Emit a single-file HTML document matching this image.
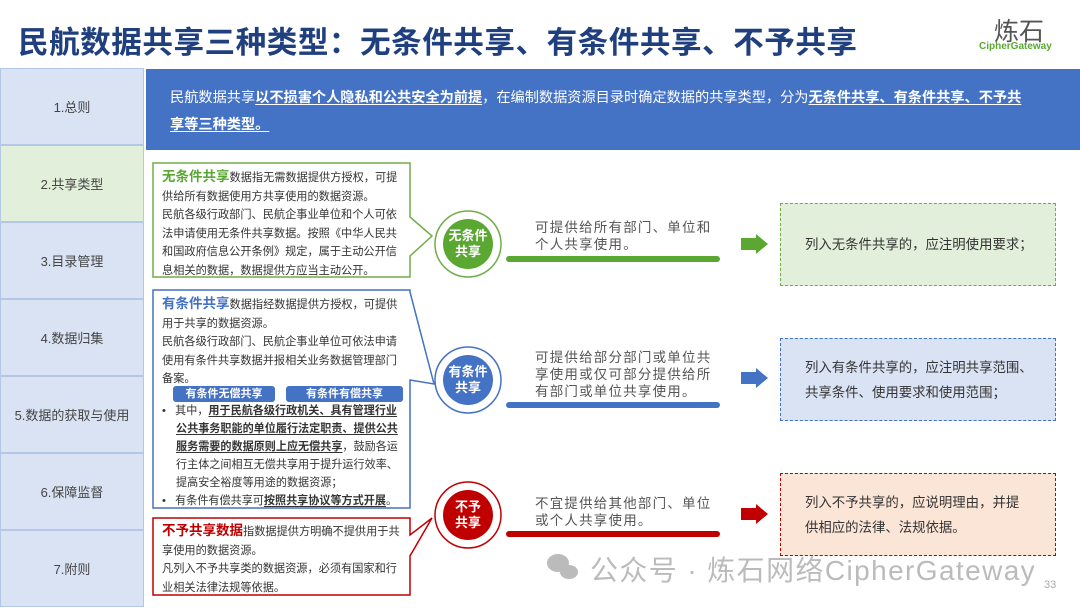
<!DOCTYPE html>
<html><head><meta charset="utf-8"><style>
*{margin:0;padding:0;box-sizing:border-box}
body{width:1080px;height:608px;position:relative;overflow:hidden;background:#fff;font-family:"Liberation Sans","Noto Sans CJK SC",sans-serif;color:#333}
.a{position:absolute}
.nav{position:absolute;left:0;width:144px;height:77px;background:#dae3f3;border:1px solid #b4c7e7;font-size:13px;color:#444;display:flex;align-items:center;justify-content:center}
.t{font-size:11.2px;line-height:18.5px;color:#333;letter-spacing:0}
.mid{font-size:13.5px;line-height:17px;color:#555;letter-spacing:1.2px}
.box{position:absolute;left:780px;width:276px;height:83px;border:1.5px dashed;font-size:13.4px;line-height:36px;padding:7px 14px 0 24px;color:#333}
u{text-decoration:underline;text-underline-offset:2px}
</style></head><body>
<div class="a" style="left:18px;top:18px;font-size:30.6px;font-weight:bold;color:#1f3f7f;letter-spacing:0.5px">民航数据共享三种类型：无条件共享、有条件共享、不予共享</div>
<div class="a" style="left:994px;top:12px;font-size:25px;color:#555">炼石</div>
<div class="a" style="left:979px;top:41px;font-size:10px;color:#5aa832;font-weight:bold">CipherGateway</div>

<div class="nav" style="top:68px">1.总则</div>
<div class="nav" style="top:145px;background:#e2efda">2.共享类型</div>
<div class="nav" style="top:222px">3.目录管理</div>
<div class="nav" style="top:299px">4.数据归集</div>
<div class="nav" style="top:376px">5.数据的获取与使用</div>
<div class="nav" style="top:453px">6.保障监督</div>
<div class="nav" style="top:530px">7.附则</div>

<div class="a" style="left:146px;top:69px;width:934px;height:81px;background:#4472c4;color:#fff;font-size:14.2px;line-height:27px;padding:16px 18px 0 24px">民航数据共享<u><b>以不损害个人隐私和公共安全为前提</b></u>，在编制数据资源目录时确定数据的共享类型，分为<u><b>无条件共享、有条件共享、不予共<br>享等三种类型。</b></u></div>

<svg class="a" style="left:0;top:0" width="1080" height="608">
<polygon points="153,163 410,163 410,217 432,236 410,256 410,277 153,277" fill="#fff" stroke="#70ad47" stroke-width="1.5"/>
<polygon points="153,290 410,290 410,292 434,384 410,380 410,508 153,508" fill="#fff" stroke="#4472c4" stroke-width="1.5"/>
<polygon points="153,518 410,518 410,535 432,518 410,556 410,595 153,595" fill="#fff" stroke="#c00000" stroke-width="1.5"/>
<circle cx="468" cy="244" r="33" fill="#fff" stroke="#70ad47" stroke-width="1.5"/>
<circle cx="468" cy="244" r="25" fill="#5aa832"/>
<circle cx="468" cy="380" r="33" fill="#fff" stroke="#4472c4" stroke-width="1.5"/>
<circle cx="468" cy="380" r="25" fill="#4472c4"/>
<circle cx="468" cy="515" r="33" fill="#fff" stroke="#c00000" stroke-width="1.5"/>
<circle cx="468" cy="515" r="25" fill="#c00000"/>
<rect x="506" y="256" width="214" height="6" rx="3" fill="#5aa832"/>
<rect x="506" y="402" width="214" height="6" rx="3" fill="#4472c4"/>
<rect x="506" y="531" width="214" height="6" rx="3" fill="#c00000"/>
<polygon points="741,238 756,238 756,234 768,244 756,254 756,250 741,250" fill="#5aa832"/>
<polygon points="741,372 756,372 756,368 768,378 756,388 756,384 741,384" fill="#4472c4"/>
<polygon points="741,508 756,508 756,504 768,514 756,524 756,520 741,520" fill="#c00000"/>
<rect x="173" y="386" width="102" height="16" rx="3" fill="#4472c4"/>
<rect x="286" y="386" width="117" height="16" rx="3" fill="#4472c4"/>
<g fill="#bbb"><ellipse cx="558" cy="563" rx="11" ry="9"/><ellipse cx="569" cy="572" rx="9" ry="7"/></g>
</svg>

<div class="a t" style="left:162px;top:168px;width:246px"><b style="color:#5aa832;font-size:13.5px">无条件共享</b>数据指无需数据提供方授权，可提供给所有数据使用方共享使用的数据资源。<br>民航各级行政部门、民航企事业单位和个人可依法申请使用无条件共享数据。按照《中华人民共和国政府信息公开条例》规定，属于主动公开信息相关的数据，数据提供方应当主动公开。</div>

<div class="a t" style="left:162px;top:295px;width:246px"><b style="color:#4472c4;font-size:13.5px">有条件共享</b>数据指经数据提供方授权，可提供用于共享的数据资源。<br>民航各级行政部门、民航企事业单位可依法申请使用有条件共享数据并报相关业务数据管理部门备案。</div>
<div class="a" style="left:173px;top:386px;width:102px;text-align:center;color:#fff;font-size:11px;font-weight:bold;line-height:16px">有条件无偿共享</div>
<div class="a" style="left:286px;top:386px;width:117px;text-align:center;color:#fff;font-size:11px;font-weight:bold;line-height:16px">有条件有偿共享</div>
<div class="a t" style="left:162px;top:402px;width:246px;line-height:18px;font-size:11.1px">
<div style="padding-left:14px;text-indent:-14px">•&nbsp;&nbsp; 其中，<u><b>用于民航各级行政机关、具有管理行业公共事务职能的单位履行法定职责、提供公共服务需要的数据原则上应无偿共享</b></u>，鼓励各运行主体之间相互无偿共享用于提升运行效率、提高安全裕度等用途的数据资源；</div>
<div style="padding-left:14px;text-indent:-14px">•&nbsp;&nbsp; 有条件有偿共享可<u><b>按照共享协议等方式开展</b></u>。</div></div>

<div class="a t" style="left:162px;top:522px;width:246px"><b style="color:#c00000;font-size:13.5px">不予共享数据</b>指数据提供方明确不提供用于共享使用的数据资源。<br>凡列入不予共享类的数据资源，必须有国家和行业相关法律法规等依据。</div>

<div class="a" style="left:443px;top:228px;width:50px;text-align:center;color:#fff;font-size:13px;font-weight:bold;line-height:16px">无条件<br>共享</div>
<div class="a" style="left:443px;top:364px;width:50px;text-align:center;color:#fff;font-size:13px;font-weight:bold;line-height:16px">有条件<br>共享</div>
<div class="a" style="left:443px;top:499px;width:50px;text-align:center;color:#fff;font-size:13px;font-weight:bold;line-height:16px">不予<br>共享</div>

<div class="a mid" style="left:535px;top:219px;width:190px">可提供给所有部门、单位和个人共享使用。</div>
<div class="a mid" style="left:535px;top:349px;width:190px">可提供给部分部门或单位共享使用或仅可部分提供给所有部门或单位共享使用。</div>
<div class="a mid" style="left:535px;top:495px;width:190px">不宜提供给其他部门、单位或个人共享使用。</div>

<div class="box" style="top:203px;background:#e2efda;border-color:#70ad47;padding-top:23px">列入无条件共享的，应注明使用要求；</div>
<div class="box" style="top:338px;background:#dae3f3;border-color:#4472c4;line-height:25px;padding-top:16px">列入有条件共享的，应注明共享范围、共享条件、使用要求和使用范围；</div>
<div class="box" style="top:473px;background:#fbe5d6;border-color:#c00000;line-height:25px;padding-top:16px;padding-right:10px">列入不予共享的，应说明理由，并提<br>供相应的法律、法规依据。</div>

<div class="a" style="left:590px;top:549px;font-size:28px;color:#bbb;letter-spacing:1.4px">公众号 · 炼石网络CipherGateway</div>
<div class="a" style="left:1044px;top:579px;font-size:11px;color:#aaa">33</div>
</body></html>
